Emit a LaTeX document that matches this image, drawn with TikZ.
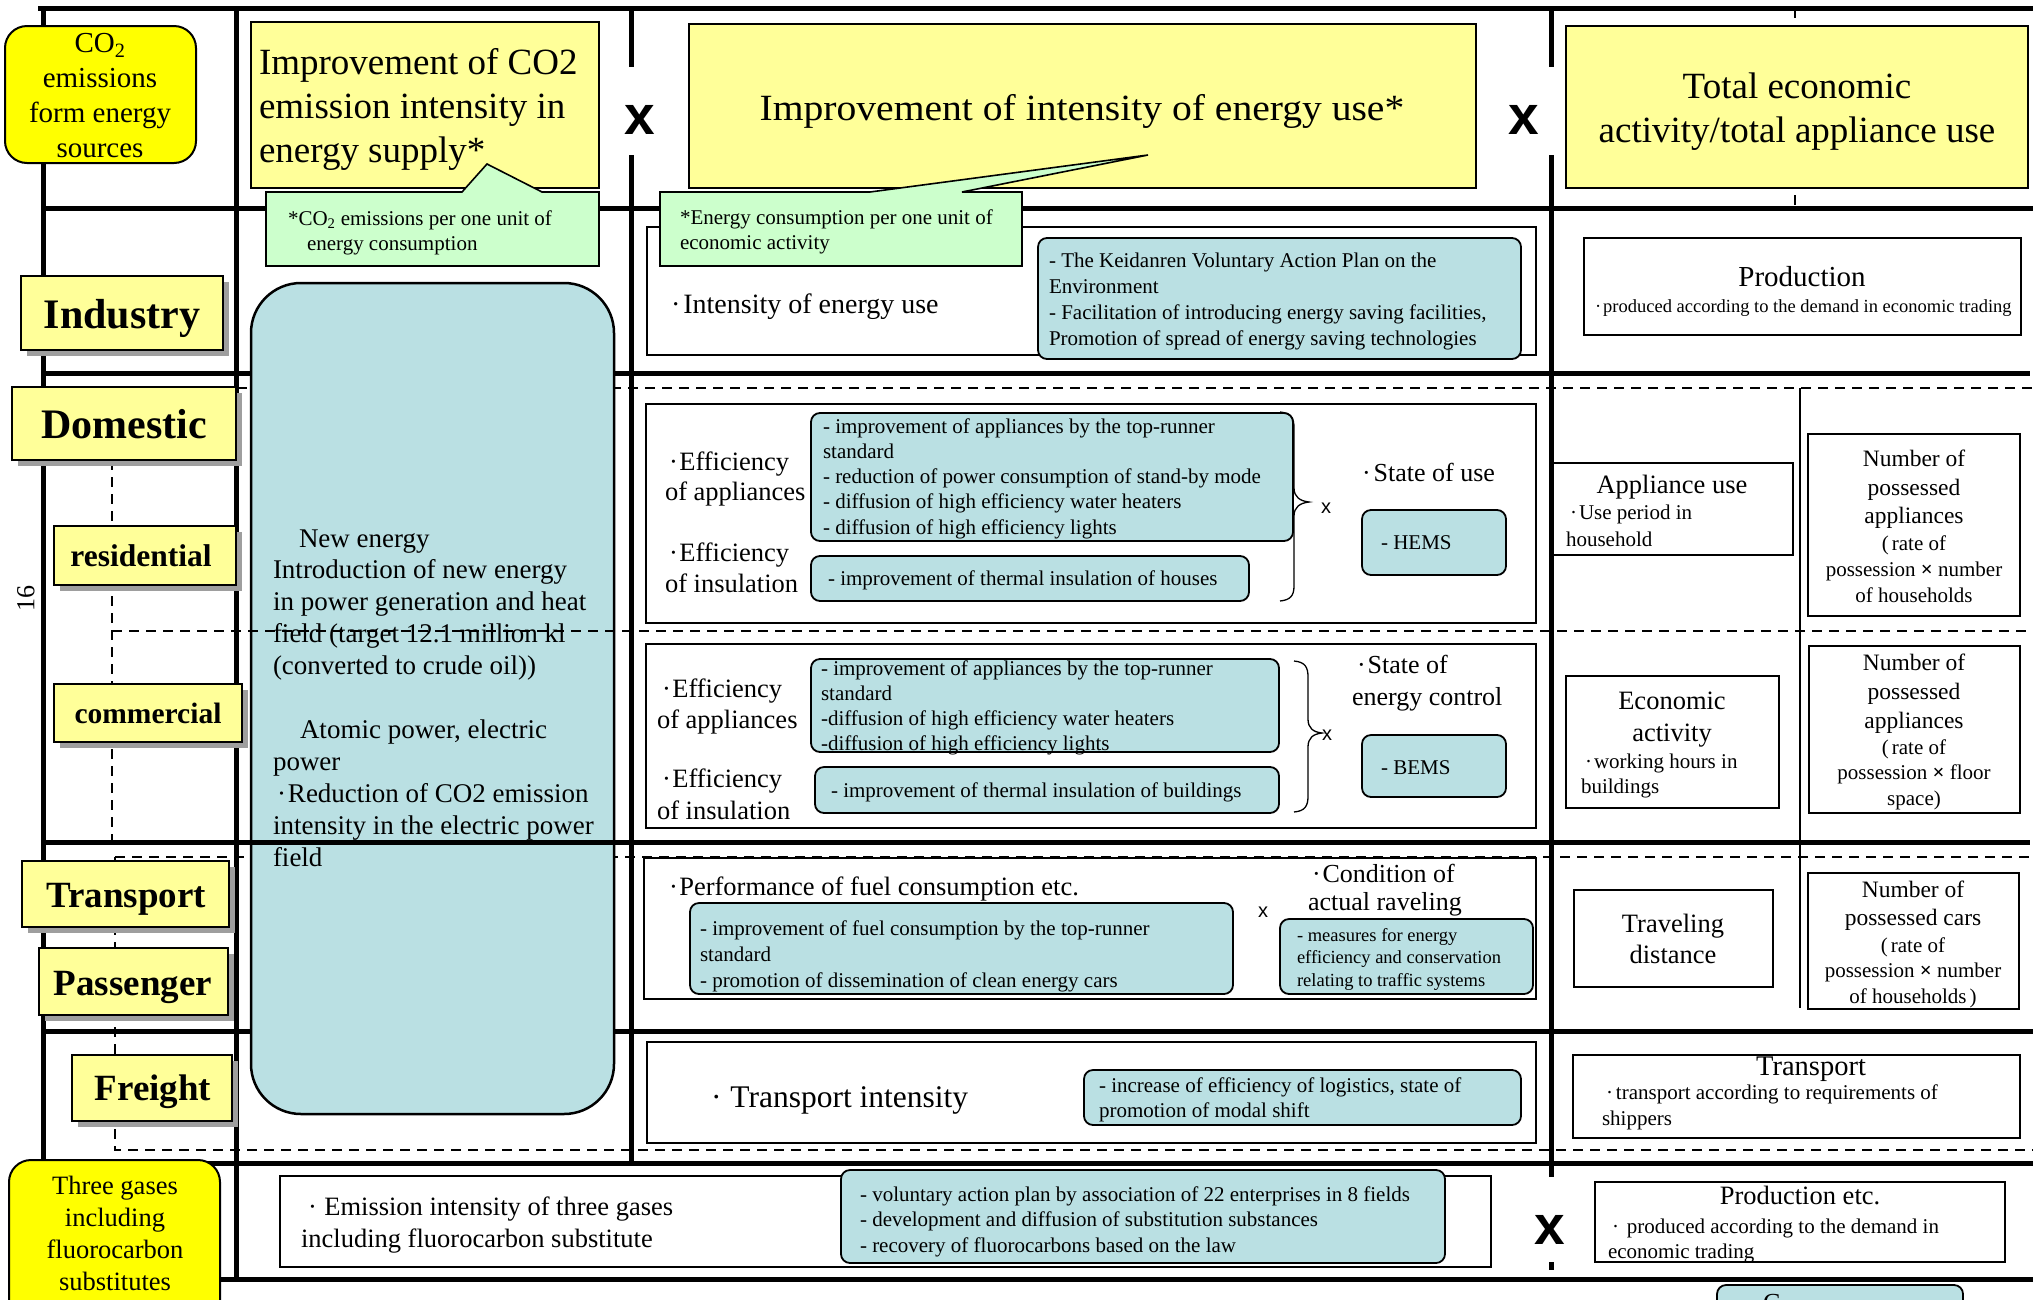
\documentclass[tikz,border=0pt]{standalone}
\usepackage{graphicx}
\usepackage{fontspec}
\setmainfont{Liberation Serif}
\newfontfamily\xsans{Liberation Sans}
\usetikzlibrary{fit}
\definecolor{hiyellow}{RGB}{255,255,0}
\definecolor{paleyellow}{RGB}{255,255,153}
\definecolor{palegreen}{RGB}{204,255,204}
\definecolor{paleblue}{RGB}{186,224,227}
\newcommand\fsz[2]{\fontsize{#1}{#2}\selectfont}
% sector label: shadow plus pale yellow box
\newcommand\sectorlabel[5]{%
  \fill[black!38] ({#2+6},{#3+6}) rectangle ({#4+6},{#5+6});
  \node[frame, fill=paleyellow, line width=1.8pt, fit={(#2,#3) (#4,#5)}] (#1) {};}
\begin{document}
\begin{tikzpicture}[x=1pt, y=-1pt,
  grid/.style={line width=5pt},
  gridthin/.style={line width=1.5pt},
  griddash/.style={line width=1.5pt, dash pattern=on 10pt off 7pt},
  frame/.style={draw, line width=1.6pt, inner sep=0pt, outer sep=0pt},
  whitebox/.style={frame, fill=white},
  bluebox/.style={frame, fill=paleblue, rounded corners=9pt, line width=1.8pt},
  headbox/.style={frame, fill=paleyellow, line width=1.8pt},
  callout/.style={line width=1.6pt, fill=palegreen},
  brace/.style={line width=1.3pt},
  txt/.style={inner sep=0pt, outer sep=0pt},
  bigx/.style={txt, font=\xsans\bfseries\fsz{55}{55}},
  smallx/.style={txt, font=\xsans\fsz{20}{20}},
  sectortext/.style={txt, anchor=base, font=\bfseries\fsz{#1}{#1}}
]
\useasboundingbox (0,0) rectangle (2033,1299);
\clip (0,0) rectangle (2033,1299);

% ---------- grid lines (under everything) ----------
\draw[griddash] (1795,8) -- (1795,208);
\draw[griddash] (237,388) -- (2040,388);
\draw[griddash] (112,460) -- (112,842);
\draw[griddash] (115,857) -- (2040,857);
\draw[griddash] (115,857) -- (115,1150) -- (2040,1150);
\draw[gridthin] (1800,388) -- (1800,1008);
\draw[grid] (38,8) -- (2040,8);
\draw[grid] (43,8) -- (43,1163);
\draw[grid] (236,8) -- (236,1279);
\draw[grid] (631,8) -- (631,67) (631,155) -- (631,1163);
\draw[grid] (1551,8) -- (1551,67) (1551,155) -- (1551,1177) (1551,1262) -- (1551,1270);
\draw[grid] (43,208) -- (2040,208);
\draw[grid] (43,373) -- (2030,373);
\draw[grid] (43,1031) -- (2040,1031);
\draw[grid] (41,1163) -- (2040,1163);
\draw[grid] (219,1279) -- (2040,1279);

% ---------- header row ----------
\node[frame, fill=hiyellow, rounded corners=22pt, line width=2pt, fit={(5,26) (196,163)}] (co2box) {};
\node[txt, anchor=north, align=center, font=\fsz{29}{34.7}] (co2text) at (100,28.7)
  {\strut CO\textsubscript{2}\\emissions\\form energy\\sources};

\node[headbox, fit={(251,22) (599,188)}] (supplybox) {};
\node[txt, anchor=north west, align=left, font=\fsz{37}{44}] (supplytext) at (259,43.2)
  {\strut Improvement of CO2\\emission intensity in\\energy supply*};

\node[headbox, fit={(689,24) (1476,188)}] (usebox) {};
\node[txt, anchor=base, font=\fsz{37}{44}] (usetext) at (1082,120)
  {\scalebox{1.07}[1]{Improvement of intensity of energy use*}};

\node[headbox, fit={(1566,26) (2028,188)}] (activitybox) {};
\node[txt, anchor=north, align=center, font=\fsz{37}{44}] (activitytext) at (1797,67.2)
  {\strut Total economic\\activity/total appliance use};

\node[bigx] (multA) at (640,120) {x};
\node[bigx] (multB) at (1524,120) {x};

% ---------- sector labels ----------
\sectorlabel{industry}{21}{276}{223}{350}
\node[sectortext=42] (industrytext) at (122,328) {Industry};
\sectorlabel{domestic}{12}{387}{236}{460}
\node[sectortext=42] (domestictext) at (124,438) {Domestic};
\sectorlabel{residential}{54}{526}{236}{585}
\node[sectortext=31.5] (residentialtext) at (141,566) {residential};
\sectorlabel{commercial}{54}{684}{242}{742}
\node[sectortext=29.5] (commercialtext) at (148,723) {commercial};
\sectorlabel{transport}{22}{861}{229}{927}
\node[sectortext=37] (transporttext) at (126,907) {Transport};
\sectorlabel{passenger}{39}{948}{228}{1015}
\node[sectortext=37] (passengertext) at (133,995) {Passenger};
\sectorlabel{freight}{72}{1055}{232}{1121}
\node[sectortext=37] (freighttext) at (153,1100) {Freight};
\node[txt, rotate=90, font=\fsz{26}{26}] (pagenum) at (26,598) {16};

% ---------- supply side measures ----------
\node[frame, fill=paleblue, rounded corners=50pt, line width=2.5pt, fit={(251,283) (614,1114)}] (supplymeasures) {};
\node[txt, anchor=north west, align=left, font=\fsz{27}{31.9}] (supplymeasurestext) at (273,524.7)
  {\strut\hspace*{26pt}New energy\\Introduction of new energy\\in power generation and heat\\
   field (target 12.1 million kl\\(converted to crude oil))\\[31.9pt]
   \hspace*{27pt}Atomic power, electric\\power\\\hspace*{4pt}·\kern2pt Reduction of CO2 emission\\
   intensity in the electric power\\field};
\draw[griddash] (112,631) -- (2040,631);
\draw[grid] (43,842) -- (2030,842);

% ---------- industry ----------
\node[whitebox, fit={(647,227) (1536,355)}] (indframe) {};
\node[txt, anchor=base west, font=\fsz{28}{32}] (indintensity) at (671,313) {·\kern3pt Intensity of energy use};
\node[bluebox, fit={(1038,238) (1521,359)}] (indmeasures) {};
\node[txt, anchor=north west, align=left, font=\fsz{21}{25.7}] (indmeasurestext) at (1049,250)
  {\strut - The Keidanren Voluntary Action Plan on the\\Environment\\
   - Facilitation of introducing energy saving facilities,\\Promotion of spread of energy saving technologies};
\node[whitebox, fit={(1584,238) (2021,335)}] (prodbox) {};
\node[txt, anchor=base, font=\fsz{29}{32}] (prodtitle) at (1802,286) {Production};
\node[txt, anchor=base west, font=\fsz{18.5}{22}] (prodnote) at (1595,312)
  {·\kern2pt produced according to the demand in economic trading};

% ---------- residential ----------
\node[whitebox, fit={(646,404) (1536,623)}] (resframe) {};
\node[txt, anchor=north west, align=left, font=\fsz{26.5}{30.5}] (resappl) at (665,448.7)
  {\strut\hspace*{4pt}·\kern1.5pt Efficiency\\of appliances};
\node[txt, anchor=north west, align=left, font=\fsz{26.5}{31}] (resins) at (665,539.3)
  {\strut\hspace*{4pt}·\kern1.5pt Efficiency\\of insulation};
\node[bluebox, fit={(811,413) (1293,541)}] (resapplmeasures) {};
\node[txt, anchor=north west, align=left, font=\fsz{21}{25.3}] (resapplmeasurestext) at (823,415.3)
  {\strut - improvement of appliances by the top-runner\\standard\\
   - reduction of power consumption of stand-by mode\\- diffusion of high efficiency water heaters\\
   - diffusion of high efficiency lights};
\node[bluebox, fit={(811,556) (1249,601)}] (resinsmeasures) {};
\node[txt, anchor=base west, font=\fsz{21}{25}] (resinsmeasurestext) at (828,585)
  {- improvement of thermal insulation of houses};
\draw[brace] (1280,412) .. controls (1291,413) and (1294,418) .. (1294,428) -- (1294,488)
  .. controls (1294,497) and (1300,501) .. (1309,502) .. controls (1300,503) and (1294,507) .. (1294,516)
  -- (1294,586) .. controls (1294,596) and (1290,600) .. (1280,601);
\node[smallx] (resmult) at (1326,508) {x};
\node[txt, anchor=base west, font=\fsz{26}{30}] (resstate) at (1362,481) {·\kern3pt State of use};
\node[bluebox, fit={(1362,510) (1506,575)}] (hems) {};
\node[txt, anchor=base west, font=\fsz{21}{25}] (hemstext) at (1381,549) {- HEMS};

% ---------- commercial ----------
\node[whitebox, fit={(646,644) (1536,828)}] (comframe) {};
\node[txt, anchor=north west, align=left, font=\fsz{26.5}{31}] (comappl) at (657,675.3)
  {\strut\hspace*{5pt}·\kern1.5pt Efficiency\\of appliances};
\node[txt, anchor=north west, align=left, font=\fsz{26.5}{32}] (comins) at (657,764.6)
  {\strut\hspace*{5pt}·\kern1.5pt Efficiency\\of insulation};
\node[bluebox, fit={(811,659) (1279,752)}] (comapplmeasures) {};
\node[txt, anchor=north west, align=left, font=\fsz{21}{25.3}] (comapplmeasurestext) at (821,657.3)
  {\strut - improvement of appliances by the top-runner\\standard\\
   -diffusion of high efficiency water heaters\\-diffusion of high efficiency lights};
\node[bluebox, fit={(815,767) (1279,813)}] (cominsmeasures) {};
\node[txt, anchor=base west, font=\fsz{21}{25}] (cominsmeasurestext) at (831,797)
  {- improvement of thermal insulation of buildings};
\draw[brace] (1294,661) .. controls (1305,662) and (1308,667) .. (1308,677) -- (1308,719)
  .. controls (1308,728) and (1313,732) .. (1322,733) .. controls (1313,734) and (1308,738) .. (1308,747)
  -- (1308,796) .. controls (1308,806) and (1305,811) .. (1294,812);
\node[smallx] (commult) at (1327,735) {x};
\node[txt, anchor=north west, align=left, font=\fsz{26}{32}] (comstate) at (1352,650.6)
  {\strut\hspace*{5pt}·\kern2pt State of\\energy control};
\node[bluebox, fit={(1362,735) (1506,797)}] (bems) {};
\node[txt, anchor=base west, font=\fsz{21}{25}] (bemstext) at (1381,774) {- BEMS};

% ---------- domestic activity ----------
\node[whitebox, fit={(1553,463) (1793,555)}] (usagebox) {};
\node[txt, anchor=base, font=\fsz{26.5}{30}] (usagetitle) at (1672,493) {Appliance use};
\node[txt, anchor=north west, align=left, font=\fsz{21}{27}] (usagenote) at (1566,500.1)
  {\strut\hspace*{4pt}·\kern2pt Use period in\\household};
\node[whitebox, fit={(1808,434) (2020,616)}] (resstock) {};
\node[txt, anchor=north, align=center, font=\fsz{23.5}{28.5}] (resstocktop) at (1914,447)
  {\strut Number of\\possessed\\appliances};
\node[txt, anchor=north, align=center, font=\fsz{21}{26}] (resstockbottom) at (1914,531.8)
  {\strut(\kern3pt rate of\\possession \textbf{×} number\\of households};

\node[whitebox, fit={(1566,676) (1779,808)}] (econbox) {};
\node[txt, anchor=north, align=center, font=\fsz{26.5}{32}] (econtitle) at (1672,686.6)
  {\strut Economic\\activity};
\node[txt, anchor=north west, align=left, font=\fsz{21}{25}] (econnote) at (1581,750.5)
  {\strut\hspace*{4pt}·\kern2pt working hours in\\buildings};
\node[whitebox, fit={(1809,646) (2020,813)}] (comstock) {};
\node[txt, anchor=north, align=center, font=\fsz{23.5}{29}] (comstocktop) at (1914,649.7)
  {\strut Number of\\possessed\\appliances};
\node[txt, anchor=north, align=center, font=\fsz{21}{25.5}] (comstockbottom) at (1914,736.2)
  {\strut(\kern3pt rate of\\possession \textbf{×} floor\\space)};

% ---------- passenger transport ----------
\node[whitebox, fit={(644,858) (1536,999)}] (passframe) {};
\node[txt, anchor=base west, font=\fsz{26.5}{30}] (fuelperf) at (669,895)
  {·\kern1.5pt Performance of fuel consumption etc.};
\node[bluebox, fit={(690,903) (1233,994)}] (fuelmeasures) {};
\node[txt, anchor=north west, align=left, font=\fsz{21}{26}] (fuelmeasurestext) at (700,916.8)
  {\strut - improvement of fuel consumption by the top-runner\\standard\\
   - promotion of dissemination of clean energy cars};
\node[smallx] (passmult) at (1263,912) {x};
\node[txt, anchor=north west, align=left, font=\fsz{26}{28}] (travelcond) at (1308,862.4)
  {\strut\hspace*{4pt}·\kern2pt Condition of\\actual raveling};
\node[bluebox, fit={(1280,919) (1533,994)}] (trafficmeasures) {};
\node[txt, anchor=north west, align=left, font=\fsz{18.5}{22.5}] (trafficmeasurestext) at (1297,925.3)
  {\strut - measures for energy\\efficiency and conservation\\relating to traffic systems};
\node[whitebox, fit={(1574,890) (1773,987)}] (distbox) {};
\node[txt, anchor=north, align=center, font=\fsz{26.5}{31}] (disttext) at (1673,910.3)
  {\strut Traveling\\distance};
\node[whitebox, fit={(1808,873) (2019,1009)}] (carsbox) {};
\node[txt, anchor=north, align=center, font=\fsz{23.5}{28}] (carstop) at (1913,877.4)
  {\strut Number of\\possessed cars};
\node[txt, anchor=north, align=center, font=\fsz{21}{25.5}] (carsbottom) at (1913,934.2)
  {\strut(\kern3pt rate of\\possession \textbf{×} number\\of households\kern3pt)};

% ---------- freight ----------
\node[whitebox, fit={(647,1042) (1536,1143)}] (freightframe) {};
\node[txt, anchor=base west, font=\fsz{31.5}{35}] (transintensity) at (711,1107)
  {·\kern9pt Transport intensity};
\node[bluebox, fit={(1084,1070) (1521,1125)}] (logistics) {};
\node[txt, anchor=north west, align=left, font=\fsz{21}{25}] (logisticstext) at (1099,1074.5)
  {\strut - increase of efficiency of logistics, state of\\promotion of modal shift};
\node[whitebox, fit={(1573,1055) (2020,1138)}] (shipbox) {};
\node[txt, anchor=base, font=\fsz{28.5}{30}] (shiptitle) at (1811,1075) {Transport};
\node[txt, anchor=north west, align=left, font=\fsz{21}{26}] (shipnote) at (1602,1080.8)
  {\strut\hspace*{4pt}·\kern3pt transport according to requirements of\\shippers};

% ---------- three gases ----------
\node[frame, fill=hiyellow, rounded corners=22pt, line width=2pt, fit={(9,1160) (220,1345)}] (gasbox) {};
\node[txt, anchor=north, align=center, font=\fsz{26.5}{32.3}] (gastext) at (115,1171.4)
  {\strut Three gases\\including\\fluorocarbon\\substitutes};
\node[whitebox, fit={(280,1176) (1491,1267)}] (gasframe) {};
\node[txt, anchor=north west, align=left, font=\fsz{26.5}{32}] (gasintensity) at (301,1192.6)
  {\strut\hspace*{7pt}·\kern7.5pt Emission intensity of three gases\\including fluorocarbon substitute};
\node[bluebox, fit={(841,1170) (1445,1263)}] (gasmeasures) {};
\node[txt, anchor=north west, align=left, font=\fsz{21}{25.5}] (gasmeasurestext) at (860,1183.2)
  {\strut - voluntary action plan by association of 22 enterprises in 8 fields\\
   - development and diffusion of substitution substances\\
   - recovery of fluorocarbons based on the law};
\node[bigx] (multC) at (1550,1230) {x};
\node[whitebox, fit={(1595,1182) (2005,1262)}] (tradebox) {};
\node[txt, anchor=base, font=\fsz{26.5}{30}] (tradetitle) at (1800,1204) {Production etc.};
\node[txt, anchor=north west, align=left, font=\fsz{21}{25}] (tradenote) at (1608,1215.5)
  {\strut\hspace*{4pt}·\kern8pt produced according to the demand in\\economic trading};

% next block, cut by the page edge
\node[bluebox, fit={(1717,1285) (1963,1345)}] (nextbox) {};
\node[txt, anchor=base west, font=\fsz{26}{30}] (nexttext) at (1763,1311) {C};

% ---------- explanatory callouts ----------
\draw[callout] (266,192) -- (462,192) -- (487,164) -- (542,192) -- (599,192) -- (599,266) -- (266,266) -- cycle;
\node[txt, anchor=north west, align=left, font=\fsz{21}{25}] (supplynote) at (288,207.5)
  {\strut *CO\textsubscript{2} emissions per one unit of\\\hspace*{19pt}energy consumption};
\draw[callout] (660,192) -- (870,192) -- (1148,155) -- (962,192) -- (1022,192) -- (1022,266) -- (660,266) -- cycle;
\node[txt, anchor=north west, align=left, font=\fsz{21}{25}] (usenote) at (680,206.5)
  {\strut *Energy consumption per one unit of\\economic activity};
\end{tikzpicture}
\end{document}
